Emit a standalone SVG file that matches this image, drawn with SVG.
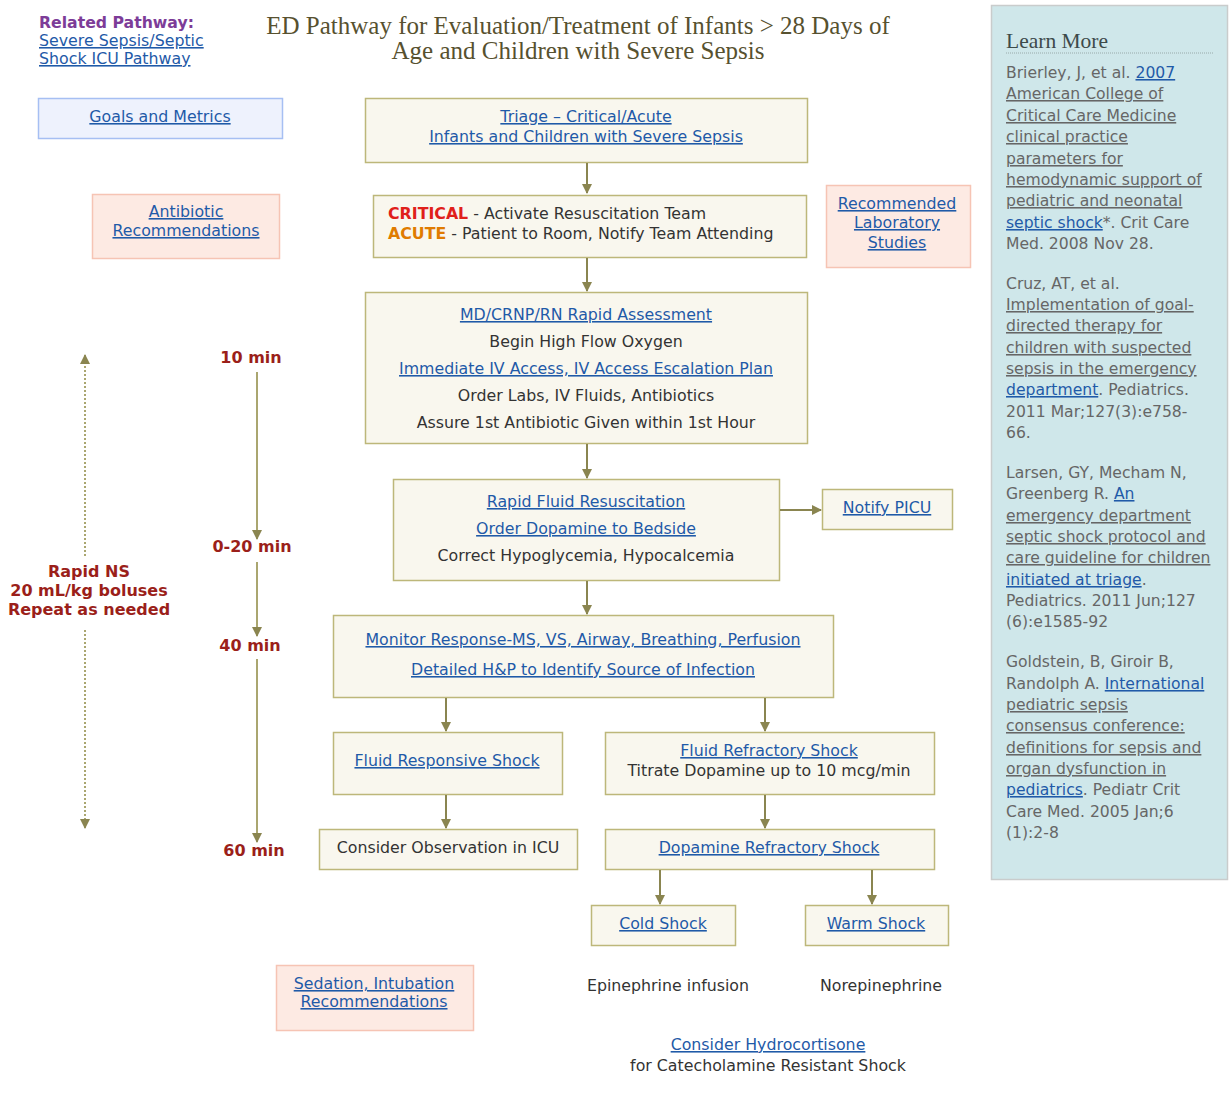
<svg xmlns="http://www.w3.org/2000/svg" width="1230" height="1095" viewBox="0 0 1230 1095">
<defs>
<style>
text{font-family:"DejaVu Sans","Verdana",sans-serif;font-size:15.8px;fill:#333}
.c{text-anchor:middle}
.lk{fill:#1f5aa8;text-decoration:underline}
.box{fill:#f9f7ee;stroke:#bdb77a;stroke-width:1.5}
.pink{fill:#fdeae3;stroke:#f6c4b4;stroke-width:1.5}
.blue{fill:#eef2fd;stroke:#a6bff3;stroke-width:1.5}
.ttl{font-family:"Liberation Serif","Georgia",serif;font-size:25px;fill:#57512f}
.tm{font-weight:bold;fill:#9b1f1a;font-size:16px}
.ref{font-size:15.6px;fill:#666}
.con{stroke:#8a8550;stroke-width:2;fill:none}
.tl{stroke:#aaa670;stroke-width:2;fill:none}
.dot{stroke:#aaa670;stroke-width:2;stroke-dasharray:2 2;fill:none}
</style>
<marker id="ah" viewBox="0 0 10 10" refX="9" refY="5" markerWidth="5" markerHeight="5" orient="auto"><path d="M0,0 L10,5 L0,10 z" fill="#8a8550"/></marker>
<marker id="ah2" viewBox="0 0 10 10" refX="9" refY="5" markerWidth="5" markerHeight="5" orient="auto"><path d="M0,0 L10,5 L0,10 z" fill="#8a8550"/></marker>
</defs>
<rect width="1230" height="1095" fill="#fff"/>

<g id="related">
<text x="39" y="28" style="font-weight:bold;fill:#7d3c98;font-size:15.7px">Related Pathway:</text>
<text x="39" y="46" class="lk">Severe Sepsis/Septic</text>
<text x="39" y="64" class="lk">Shock ICU Pathway</text>
</g>
<g id="title">
<text x="578" y="34" class="ttl c">ED Pathway for Evaluation/Treatment of Infants &gt; 28 Days of</text>
<text x="578" y="59" class="ttl c">Age and Children with Severe Sepsis</text>
</g>

<g id="goals"><rect x="38.5" y="98.5" width="244" height="40" class="blue"/><text x="160" y="122" class="c lk">Goals and Metrics</text></g>
<g id="antibiotic"><rect x="92.5" y="194.5" width="187" height="64" class="pink"/><text x="186" y="217" class="c lk">Antibiotic</text><text x="186" y="236" class="c lk">Recommendations</text></g>
<g id="triage"><rect x="365.5" y="98.5" width="442" height="64" class="box"/><text x="586" y="122" class="c lk">Triage – Critical/Acute</text><text x="586" y="142" class="c lk">Infants and Children with Severe Sepsis</text></g>
<g id="critical"><rect x="373.5" y="195.5" width="433" height="62" class="box"/>
<text x="388" y="219"><tspan style="font-weight:bold;fill:#e0201a">CRITICAL</tspan> - Activate Resuscitation Team</text>
<text x="388" y="239"><tspan style="font-weight:bold;fill:#e07b00">ACUTE</tspan> - Patient to Room, Notify Team Attending</text></g>
<g id="labs"><rect x="826.5" y="185.5" width="144" height="82" class="pink"/><text x="897" y="209" class="c lk">Recommended</text><text x="897" y="228" class="c lk">Laboratory</text><text x="897" y="248" class="c lk">Studies</text></g>
<g id="assessment"><rect x="365.5" y="292.5" width="442" height="151" class="box"/>
<text x="586" y="320" class="c lk">MD/CRNP/RN Rapid Assessment</text>
<text x="586" y="347" class="c">Begin High Flow Oxygen</text>
<text x="586" y="374" class="c lk">Immediate IV Access, IV Access Escalation Plan</text>
<text x="586" y="401" class="c">Order Labs, IV Fluids, Antibiotics</text>
<text x="586" y="428" class="c">Assure 1st Antibiotic Given within 1st Hour</text></g>
<g id="fluid"><rect x="393.5" y="479.5" width="386" height="101" class="box"/>
<text x="586" y="507" class="c lk">Rapid Fluid Resuscitation</text>
<text x="586" y="534" class="c lk">Order Dopamine to Bedside</text>
<text x="586" y="561" class="c">Correct Hypoglycemia, Hypocalcemia</text></g>
<g id="picu"><rect x="822.5" y="489.5" width="130" height="40" class="box"/><text x="887" y="513" class="c lk">Notify PICU</text></g>
<g id="monitor"><rect x="333.5" y="615.5" width="500" height="82" class="box"/>
<text x="583" y="645" class="c lk">Monitor Response-MS, VS, Airway, Breathing, Perfusion</text>
<text x="583" y="675" class="c lk">Detailed H&amp;P to Identify Source of Infection</text></g>
<g id="responsive"><rect x="333.5" y="732.5" width="229" height="62" class="box"/><text x="447" y="766" class="c lk">Fluid Responsive Shock</text></g>
<g id="refractory"><rect x="605.5" y="732.5" width="329" height="62" class="box"/><text x="769" y="756" class="c lk">Fluid Refractory Shock</text><text x="769" y="776" class="c">Titrate Dopamine up to 10 mcg/min</text></g>
<g id="observation"><rect x="319.5" y="829.5" width="258" height="40" class="box"/><text x="448" y="853" class="c">Consider Observation in ICU</text></g>
<g id="dopamine"><rect x="605.5" y="829.5" width="329" height="40" class="box"/><text x="769" y="853" class="c lk">Dopamine Refractory Shock</text></g>
<g id="cold"><rect x="591.5" y="905.5" width="144" height="40" class="box"/><text x="663" y="929" class="c lk">Cold Shock</text></g>
<g id="warm"><rect x="805.5" y="905.5" width="143" height="40" class="box"/><text x="876" y="929" class="c lk">Warm Shock</text></g>
<g id="epi"><text x="668" y="991" class="c">Epinephrine infusion</text></g>
<g id="norepi"><text x="881" y="991" class="c">Norepinephrine</text></g>
<g id="sedation"><rect x="276.5" y="965.5" width="197" height="65" class="pink"/><text x="374" y="989" class="c lk">Sedation, Intubation</text><text x="374" y="1007" class="c lk">Recommendations</text></g>
<g id="hydro"><text x="768" y="1050" class="c lk">Consider Hydrocortisone</text><text x="768" y="1071" class="c">for Catecholamine Resistant Shock</text></g>

<g id="timeline">
<text x="251" y="363" class="c tm">10 min</text>
<text x="252" y="552" class="c tm">0-20 min</text>
<text x="250" y="651" class="c tm">40 min</text>
<text x="254" y="856" class="c tm">60 min</text>
<text x="89" y="577" class="c tm">Rapid NS</text>
<text x="89" y="596" class="c tm">20 mL/kg boluses</text>
<text x="89" y="615" class="c tm">Repeat as needed</text>
</g>

<g id="connectors">
<path class="con" d="M587,163 V193" marker-end="url(#ah)"/>
<path class="con" d="M587,258 V291" marker-end="url(#ah)"/>
<path class="con" d="M587,444 V478" marker-end="url(#ah)"/>
<path class="con" d="M780,510 H821" marker-end="url(#ah)"/>
<path class="con" d="M587,581 V614" marker-end="url(#ah)"/>
<path class="con" d="M446,698 V731" marker-end="url(#ah)"/>
<path class="con" d="M765,698 V731" marker-end="url(#ah)"/>
<path class="con" d="M446,795 V828" marker-end="url(#ah)"/>
<path class="con" d="M765,795 V828" marker-end="url(#ah)"/>
<path class="con" d="M660,870 V904" marker-end="url(#ah)"/>
<path class="con" d="M872,870 V904" marker-end="url(#ah)"/>
<path class="tl" d="M257,372 V539" marker-end="url(#ah2)"/>
<path class="tl" d="M257,562 V636" marker-end="url(#ah2)"/>
<path class="tl" d="M257,659 V842" marker-end="url(#ah2)"/>
<path class="dot" d="M85,556 V355" marker-end="url(#ah2)"/>
<path class="dot" d="M85,630 V828" marker-end="url(#ah2)"/>
</g>

<g id="learnmore">
<rect x="991.5" y="5.5" width="236" height="874" fill="#cfe7ea" stroke="#c9cccc" stroke-width="1.5"/>
<text x="1006" y="48" style="font-family:'Liberation Serif',Georgia,serif;font-size:21.5px;fill:#3d4a4a">Learn More</text>
<path d="M1006,53 H1213" stroke="#9aa" stroke-width="1" stroke-dasharray="1 1"/>
<text x="1006" y="78" class="ref">Brierley, J, et al. <tspan class="lk">2007</tspan></text>
<text x="1006" y="99" class="ref lk">American College of</text>
<text x="1006" y="121" class="ref lk">Critical Care Medicine</text>
<text x="1006" y="142" class="ref lk">clinical practice</text>
<text x="1006" y="164" class="ref lk">parameters for</text>
<text x="1006" y="185" class="ref lk">hemodynamic support of</text>
<text x="1006" y="206" class="ref lk">pediatric and neonatal</text>
<text x="1006" y="228" class="ref"><tspan class="lk">septic shock</tspan>*. Crit Care</text>
<text x="1006" y="249" class="ref">Med. 2008 Nov 28.</text>
<text x="1006" y="289" class="ref">Cruz, AT, et al.</text>
<text x="1006" y="310" class="ref lk">Implementation of goal-</text>
<text x="1006" y="331" class="ref lk">directed therapy for</text>
<text x="1006" y="353" class="ref lk">children with suspected</text>
<text x="1006" y="374" class="ref lk">sepsis in the emergency</text>
<text x="1006" y="395" class="ref"><tspan class="lk">department</tspan>. Pediatrics.</text>
<text x="1006" y="417" class="ref">2011 Mar;127(3):e758-</text>
<text x="1006" y="438" class="ref">66.</text>
<text x="1006" y="478" class="ref">Larsen, GY, Mecham N,</text>
<text x="1006" y="499" class="ref">Greenberg R. <tspan class="lk">An</tspan></text>
<text x="1006" y="521" class="ref lk">emergency department</text>
<text x="1006" y="542" class="ref lk">septic shock protocol and</text>
<text x="1006" y="563" class="ref lk">care guideline for children</text>
<text x="1006" y="585" class="ref"><tspan class="lk">initiated at triage</tspan>.</text>
<text x="1006" y="606" class="ref">Pediatrics. 2011 Jun;127</text>
<text x="1006" y="627" class="ref">(6):e1585-92</text>
<text x="1006" y="667" class="ref">Goldstein, B, Giroir B,</text>
<text x="1006" y="689" class="ref">Randolph A. <tspan class="lk">International</tspan></text>
<text x="1006" y="710" class="ref lk">pediatric sepsis</text>
<text x="1006" y="731" class="ref lk">consensus conference:</text>
<text x="1006" y="753" class="ref lk">definitions for sepsis and</text>
<text x="1006" y="774" class="ref lk">organ dysfunction in</text>
<text x="1006" y="795" class="ref"><tspan class="lk">pediatrics</tspan>. Pediatr Crit</text>
<text x="1006" y="817" class="ref">Care Med. 2005 Jan;6</text>
<text x="1006" y="838" class="ref">(1):2-8</text>
</g>
</svg>
